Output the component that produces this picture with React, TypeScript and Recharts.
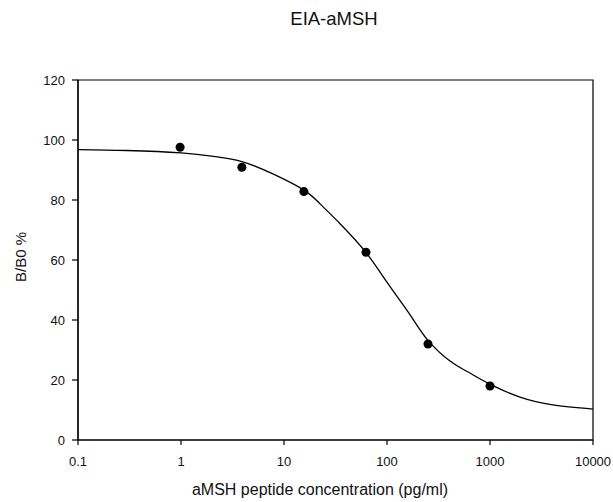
import {
  ComposedChart,
  Label,
  Line,
  ReferenceArea,
  Scatter,
  XAxis,
  YAxis,
} from "recharts";

// standards (4-fold dilution series) and measured B/B0
const standardConc = [0.98, 3.9, 15.6, 62.5, 250, 1000];
const standardBB0 = [97.6, 90.9, 82.8, 62.6, 32.0, 18.0];

// fitted curve
const curveConc = [
  0.1, 0.3, 1, 2, 3.9, 7.9, 15.6, 22.4, 35, 62.5, 99, 167, 250, 409, 594, 1000,
  1954, 4070, 10000,
];
const curveBB0 = [
  96.8, 96.5, 95.7, 94.6, 92.8, 88.6, 83.3, 78.7, 72.1, 62.5, 52.8, 41.8, 33.2,
  26.3, 22.9, 18.6, 14.3, 11.7, 10.3,
];

const xTicks = [0.1, 1, 10, 100, 1000, 10000];
const yTicks = [0, 20, 40, 60, 80, 100, 120];

const FONT = '"Liberation Sans", Arial, sans-serif';
const INK = "#000";

const points = standardConc.map((x, i) => ({ x, y: standardBB0[i] }));
const curve = curveConc.map((x, i) => ({ x, y: curveBB0[i] }));

export default function App() {
  return (
    <div
      style={{
        position: "absolute",
        left: 0,
        top: 0,
        width: 613,
        height: 502,
        background: "#fff",
        fontFamily: FONT,
      }}
    >
      <div
        style={{
          position: "absolute",
          left: 234,
          top: 8,
          width: 200,
          textAlign: "center",
          fontSize: 18.5,
          lineHeight: "21px",
          color: "#111",
        }}
      >
        EIA-aMSH
      </div>
      <div
        style={{
          position: "absolute",
          left: 120,
          top: 481,
          width: 400,
          textAlign: "center",
          fontSize: 16,
          lineHeight: "18px",
          color: "#111",
        }}
      >
        aMSH peptide concentration (pg/ml)
      </div>
      <ComposedChart
        width={613}
        height={502}
        margin={{ top: 80, right: 20, left: 0, bottom: 0 }}
      >
        <XAxis
          type="number"
          dataKey="x"
          scale="log"
          domain={[0.1, 10000]}
          ticks={xTicks}
          allowDataOverflow
          interval={0}
          height={62}
          tickSize={5}
          tickMargin={12}
          tickFormatter={(v: number) => String(v)}
          stroke={INK}
          strokeWidth={1.2}
          tick={{ fill: "#111", fontSize: 13, fontFamily: FONT }}
        />
        <YAxis
          type="number"
          domain={[0, 120]}
          ticks={yTicks}
          width={78}
          tickSize={6}
          tickMargin={7}
          stroke={INK}
          strokeWidth={1.2}
          tick={{ fill: "#111", fontSize: 13, fontFamily: FONT }}
        >
          <Label
            value="B/B0 %"
            angle={-90}
            position="insideLeft"
            offset={21}
            dy={-3}
            style={{
              textAnchor: "middle",
              fontSize: 15,
              fontFamily: FONT,
              fill: "#111",
            }}
          />
        </YAxis>
        <ReferenceArea
          x1={0.1}
          x2={10000}
          y1={0}
          y2={120}
          fill="none"
          stroke={INK}
          strokeWidth={1.2}
        />
        <Line
          data={curve}
          dataKey="y"
          type="natural"
          stroke={INK}
          strokeWidth={1.3}
          dot={false}
          activeDot={false}
          isAnimationActive={false}
        />
        <Scatter
          data={points}
          dataKey="y"
          fill={INK}
          shape="circle"
          isAnimationActive={false}
        />
      </ComposedChart>
    </div>
  );
}
